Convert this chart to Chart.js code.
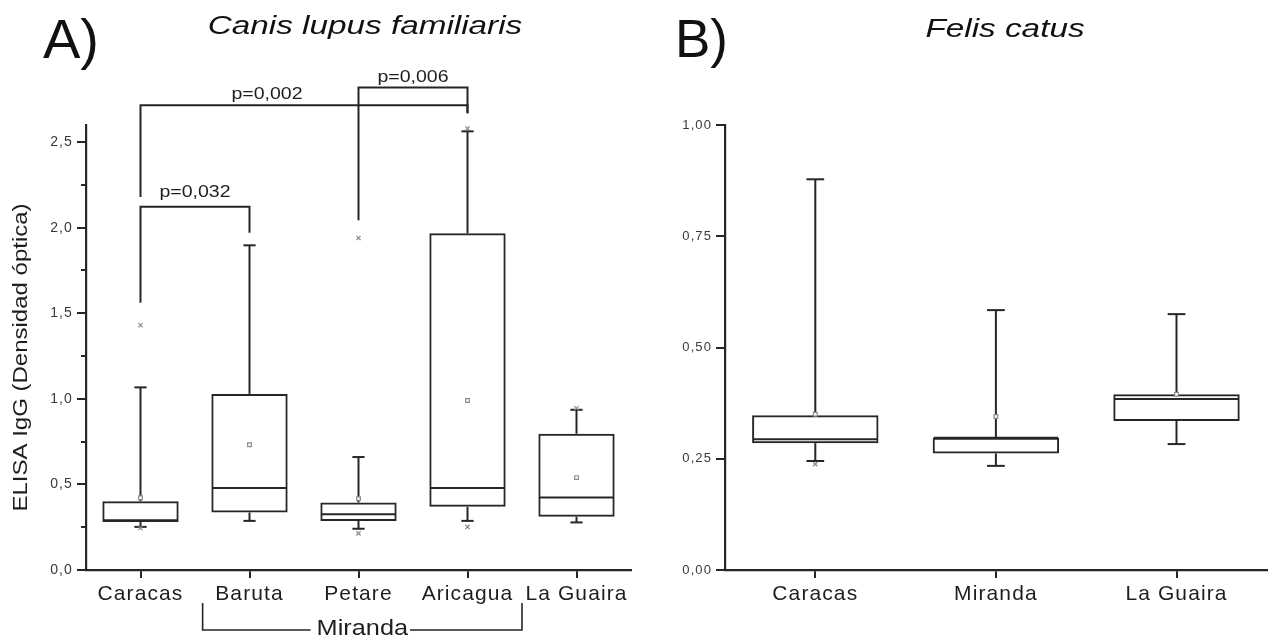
<!DOCTYPE html>
<html>
<head>
<meta charset="utf-8">
<script src="https://cdn.jsdelivr.net/npm/chart.js@4.4.0/dist/chart.umd.min.js"></script>
<style>
html,body{margin:0;padding:0;background:#fff;}
#wrap{position:relative;width:1272px;height:636px;overflow:hidden;background:#fff;}
.pane{position:absolute;top:0;}
</style>
</head>
<body>
<div id="wrap">
  <div class="pane" style="left:0;width:640px;height:636px"><canvas id="cA" width="640" height="636"></canvas></div>
  <div class="pane" style="left:640px;width:632px;height:636px"><canvas id="cB" width="632" height="636"></canvas></div>
</div>
<script>
// ---------- Data: panel A (Canis lupus familiaris) ----------
const dogCategories = ['Caracas', 'Baruta', 'Petare', 'Aricagua', 'La Guaira'];
const dogWhiskerLow  = [0.252, 0.287, 0.241, 0.287, 0.278];
const dogQ1          = [0.280, 0.336, 0.287, 0.369, 0.311];
const dogMedian      = [0.290, 0.479, 0.326, 0.479, 0.423];
const dogQ3          = [0.402, 1.029, 0.394, 1.967, 0.796];
const dogWhiskerHigh = [1.067, 1.897, 0.660, 2.563, 0.936];
const dogMean        = [0.422, 0.732, 0.417, 0.990, 0.540];
const dogOutlierCat  = ['Caracas', 'Caracas', 'Petare', 'Petare', 'Aricagua', 'Aricagua', 'La Guaira'];
const dogOutlierVal  = [1.43, 0.245, 1.94, 0.214, 2.58, 0.252, 0.945];
const dogTickValues  = [0, 0.5, 1.0, 1.5, 2.0, 2.5];
const dogTickLabels  = ['0,0', '0,5', '1,0', '1,5', '2,0', '2,5'];
const dogYMax = 2.6;

// significance brackets (category indices and y values)
const bracketLabels   = ['p=0,032', 'p=0,002', 'p=0,006'];
const bracketFrom     = [0, 0, 2];
const bracketTo       = [1, 3, 3];
const bracketLevel    = [2.122, 2.716, 2.819];
const bracketLeftEnd  = [1.561, 2.180, 2.044];
const bracketRightEnd = [1.970, 2.668, 2.668];
const bracketLabelX   = [0.5, 1.16, 2.5];
const bracketLabelY   = [2.181, 2.754, 2.852];

// group bracket under the x labels
const groupLabel = 'Miranda';
const groupFrom = 0.57;
const groupTo = 3.5;

// ---------- Data: panel B (Felis catus) ----------
const catCategories = ['Caracas', 'Miranda', 'La Guaira'];
const catWhiskerLow  = [0.245, 0.234, 0.283];
const catQ1          = [0.285, 0.262, 0.335];
const catMedian      = [0.294, 0.297, 0.384];
const catQ3          = [0.348, 0.297, 0.395];
const catWhiskerHigh = [0.878, 0.584, 0.575];
const catMean        = [0.350, 0.345, 0.395];
const catOutlierCat  = ['Caracas'];
const catOutlierVal  = [0.238];
const catTickValues  = [0, 0.25, 0.5, 0.75, 1.0];
const catTickLabels  = ['0,00', '0,25', '0,50', '0,75', '1,00'];
const catYMax = 1.0;

// ---------- helpers ----------
Chart.defaults.font.family = "'Liberation Sans', Arial, Helvetica, sans-serif";
const INK = '#262626';
const LW = 2;

function scaledText(ctx, text, x, y, font, sx, align, color, rotate) {
  ctx.save();
  ctx.letterSpacing = '0px';
  ctx.font = font;
  ctx.fillStyle = color;
  ctx.textBaseline = 'alphabetic';
  ctx.textAlign = 'left';
  const w = ctx.measureText(text).width * sx;
  ctx.translate(x, y);
  if (rotate) ctx.rotate(rotate);
  const left = align === 'center' ? -w / 2 : (align === 'right' ? -w : 0);
  ctx.translate(left, 0);
  ctx.scale(sx, 1);
  ctx.fillText(text, 0, 0);
  ctx.restore();
  return w;
}

function seg(ctx, x1, y1, x2, y2) {
  ctx.beginPath(); ctx.moveTo(x1, y1); ctx.lineTo(x2, y2); ctx.stroke();
}

const spacingPlugin = {
  id: 'spacing',
  beforeLayout(chart) { chart.ctx.letterSpacing = '1.1px'; },
  beforeDraw(chart) { chart.ctx.letterSpacing = '1.1px'; }
};

function boxPlugin(low, q1, med, q3, high, capFrac) {
  return {
    id: 'boxes',
    beforeDatasetsDraw(chart) {
      const ctx = chart.ctx, y = chart.scales.y;
      const meta = chart.getDatasetMeta(0);
      ctx.save();
      ctx.strokeStyle = INK;
      ctx.lineWidth = LW;
      low.forEach((lo, i) => {
        const bar = meta.data[i];
        const cx = bar.x, hw = bar.width / 2, cw = bar.width * capFrac / 2;
        const yH = y.getPixelForValue(high[i]), yL = y.getPixelForValue(lo);
        seg(ctx, cx, y.getPixelForValue(q3[i]), cx, yH);
        seg(ctx, cx, y.getPixelForValue(q1[i]), cx, yL);
        seg(ctx, cx - cw, yH, cx + cw, yH);
        seg(ctx, cx - cw, yL, cx + cw, yL);
        const yM = y.getPixelForValue(med[i]);
        seg(ctx, cx - hw + 1, yM, cx + hw - 1, yM);
      });
      ctx.restore();
    }
  };
}

function minorTickPlugin(len) {
  return {
    id: 'minorTicks',
    afterDraw(chart) {
      const ctx = chart.ctx, y = chart.scales.y;
      const left = chart.chartArea.left;
      const t = y.ticks;
      ctx.save();
      ctx.strokeStyle = INK; ctx.lineWidth = LW;
      for (let i = 0; i < t.length; i++) {
        const mid = i < t.length - 1 ? (t[i].value + t[i + 1].value) / 2 : t[i].value + (t[i].value - t[i - 1].value) / 2;
        if (mid > y.max) continue;
        const py = Math.round(y.getPixelForValue(mid));
        seg(ctx, left - len, py, left, py);
      }
      ctx.restore();
    }
  };
}

const dogAnnotations = {
  id: 'dogAnnotations',
  afterDraw(chart) {
    const ctx = chart.ctx, x = chart.scales.x, y = chart.scales.y, ca = chart.chartArea;
    ctx.save();
    ctx.strokeStyle = INK; ctx.lineWidth = LW;
    bracketLabels.forEach((lab, i) => {
      const x1 = x.getPixelForValue(bracketFrom[i]), x2 = x.getPixelForValue(bracketTo[i]);
      const yl = y.getPixelForValue(bracketLevel[i]);
      ctx.beginPath();
      ctx.moveTo(x1, y.getPixelForValue(bracketLeftEnd[i]));
      ctx.lineTo(x1, yl);
      ctx.lineTo(x2, yl);
      ctx.lineTo(x2, y.getPixelForValue(bracketRightEnd[i]));
      ctx.stroke();
      scaledText(ctx, lab, x.getPixelForValue(bracketLabelX[i]), y.getPixelForValue(bracketLabelY[i]),
        "16px 'Liberation Sans', Arial, sans-serif", 1.22, 'center', '#1e1e1e');
    });
    // group bracket "Miranda"
    const gx1 = x.getPixelForValue(groupFrom), gx2 = x.getPixelForValue(groupTo);
    const top = ca.bottom + 33, lineY = ca.bottom + 60;
    const gm = (gx1 + gx2) / 2;
    const w = scaledText(ctx, groupLabel, gm, ca.bottom + 65, "22px 'Liberation Sans', Arial, sans-serif", 1.15, 'center', '#1e1e1e');
    ctx.lineWidth = 1.6;
    ctx.beginPath();
    ctx.moveTo(gx1, top); ctx.lineTo(gx1, lineY); ctx.lineTo(gm - w / 2 - 6, lineY);
    ctx.moveTo(gm + w / 2 + 2, lineY); ctx.lineTo(gx2, lineY); ctx.lineTo(gx2, top);
    ctx.stroke();
    // y axis title
    scaledText(ctx, 'ELISA IgG (Densidad óptica)', 26.5, (ca.top + ca.bottom) / 2 + 10,
      "20px 'Liberation Sans', Arial, sans-serif", 1.2, 'center', '#1e1e1e', -Math.PI / 2);
    // panel letter and title
    scaledText(ctx, 'A)', 43, 58, "56px 'Liberation Sans', Arial, sans-serif", 1.0, 'left', '#111');
    scaledText(ctx, 'Canis lupus familiaris', 365, 33.5, "italic 26px 'Liberation Sans', Arial, sans-serif", 1.28, 'center', '#111');
    ctx.restore();
  }
};

const catAnnotations = {
  id: 'catAnnotations',
  afterDraw(chart) {
    const ctx = chart.ctx;
    scaledText(ctx, 'B)', 35, 57, "53px 'Liberation Sans', Arial, sans-serif", 1.0, 'left', '#111');
    scaledText(ctx, 'Felis catus', 365, 37, "italic 26px 'Liberation Sans', Arial, sans-serif", 1.28, 'center', '#111');
  }
};

function makeConfig(cats, low, q1, med, q3, high, mean, outCat, outVal, tickVals, tickLabs, yMax, opts) {
  return {
    type: 'bar',
    data: {
      labels: cats,
      datasets: [
        {
          type: 'bar',
          data: cats.map((c, i) => [q1[i], q3[i]]),
          backgroundColor: 'rgba(0,0,0,0)',
          borderColor: INK,
          borderWidth: LW,
          borderSkipped: false,
          categoryPercentage: 1.0,
          barPercentage: 0.7,
          order: 3
        },
        {
          type: 'line',
          data: mean,
          showLine: false,
          pointStyle: 'rect',
          pointRadius: 2.6,
          pointBackgroundColor: '#fff',
          pointBorderColor: '#8a8a8a',
          pointBorderWidth: 1.2,
          order: 1
        },
        {
          type: 'line',
          data: outCat.map((c, i) => ({ x: c, y: outVal[i] })),
          showLine: false,
          pointStyle: 'crossRot',
          pointRadius: 3,
          pointBorderColor: '#8a8a8a',
          pointBorderWidth: 1.2,
          order: 2
        }
      ]
    },
    options: {
      responsive: false,
      animation: false,
      events: [],
      layout: { padding: opts.padding },
      plugins: { legend: { display: false }, tooltip: { enabled: false }, title: { display: false } },
      scales: {
        x: {
          type: 'category',
          offset: true,
          grid: { display: true, drawOnChartArea: false, drawTicks: true, tickLength: 8, offset: false, color: INK, lineWidth: LW },
          border: { display: true, color: INK, width: 2.2 },
          ticks: { color: '#1e1e1e', font: { size: 21 }, padding: 4, maxRotation: 0, autoSkip: false },
          afterFit(s) { s.height = opts.xHeight; }
        },
        y: {
          type: 'linear',
          min: 0,
          max: yMax,
          afterBuildTicks(s) { s.ticks = tickVals.map(v => ({ value: v })); },
          grid: { display: true, drawOnChartArea: false, drawTicks: true, tickLength: 9, color: INK, lineWidth: LW },
          border: { display: true, color: INK, width: 2.2 },
          ticks: { color: '#3a3a3a', font: { size: opts.yFont }, padding: 4, callback: (v, i) => tickLabs[i] },
          afterFit(s) { s.width = opts.yWidth; }
        }
      }
    },
    plugins: opts.plugins
  };
}

new Chart(document.getElementById('cA'), makeConfig(
  dogCategories, dogWhiskerLow, dogQ1, dogMedian, dogQ3, dogWhiskerHigh, dogMean,
  dogOutlierCat, dogOutlierVal, dogTickValues, dogTickLabels, dogYMax,
  {
    padding: { top: 125, right: 9, left: 0, bottom: 0 },
    xHeight: 66, yWidth: 86, yFont: 14,
    plugins: [spacingPlugin, boxPlugin(dogWhiskerLow, dogQ1, dogMedian, dogQ3, dogWhiskerHigh, 0.16), minorTickPlugin(5), dogAnnotations]
  }
));

new Chart(document.getElementById('cB'), makeConfig(
  catCategories, catWhiskerLow, catQ1, catMedian, catQ3, catWhiskerHigh, catMean,
  catOutlierCat, catOutlierVal, catTickValues, catTickLabels, catYMax,
  {
    padding: { top: 125, right: 4, left: 0, bottom: 0 },
    xHeight: 66, yWidth: 85, yFont: 13,
    plugins: [spacingPlugin, boxPlugin(catWhiskerLow, catQ1, catMedian, catQ3, catWhiskerHigh, 0.14), catAnnotations]
  }
));
</script>
</body>
</html>
